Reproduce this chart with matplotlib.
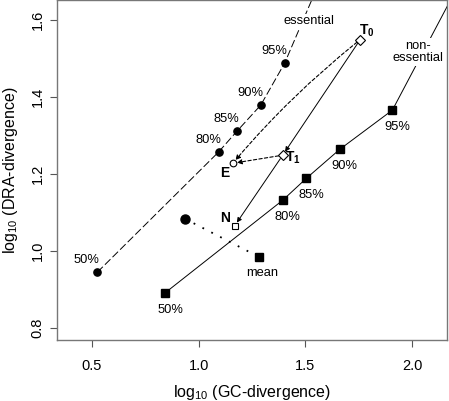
import matplotlib
matplotlib.use("Agg")
import matplotlib.pyplot as plt

plt.rcParams['font.family'] = ['Liberation Sans', 'DejaVu Sans']
plt.rcParams['mathtext.fontset'] = 'custom'
plt.rcParams['mathtext.rm'] = 'Liberation Sans'
plt.rcParams['mathtext.bf'] = 'Liberation Sans:bold'

pct_labels = ["50%", "80%", "85%", "90%", "95%"]
ess_x = [0.525, 1.093, 1.179, 1.291, 1.403]
ess_y = [0.945, 1.257, 1.311, 1.379, 1.488]
non_x = [0.844, 1.394, 1.505, 1.661, 1.908]
non_y = [0.892, 1.132, 1.189, 1.264, 1.366]
ess_ext = (1.530, 1.652)      # dashed extension to the top
non_ext = (2.175, 1.646)      # solid extension to the right
mean_x = [0.935, 1.282]
mean_y = [1.084, 0.985]
T0 = (1.757, 1.549)
T1 = (1.394, 1.249)
E = (1.160, 1.228)
N = (1.168, 1.065)

W, H = 449, 401
fig = plt.figure(figsize=(W/100, H/100), dpi=100)
ax = fig.add_axes([57/W, 1-340/H, (447-57)/W, 340/H])
ax.set_xlim(0.336, 2.164)
ax.set_ylim(0.769, 1.652)

# essential (dashed)
ax.plot(ess_x + [ess_ext[0]], ess_y + [ess_ext[1]], color='black', lw=0.7,
        dashes=(8, 3), zorder=2)
ax.plot(ess_x, ess_y, 'o', color='black', ms=5.2, zorder=3)
# non-essential (solid)
ax.plot(non_x + [non_ext[0]], non_y + [non_ext[1]], color='black', lw=0.7, zorder=2)
ax.plot(non_x, non_y, 's', color='black', ms=5.2, zorder=3)

# means
ax.plot(mean_x, mean_y, color='black', lw=1.3, dashes=(1, 4.5), zorder=2)
ax.plot(mean_x[0], mean_y[0], 'o', color='black', ms=6.5, zorder=3)
ax.plot(mean_x[1], mean_y[1], 's', color='black', ms=6.2, zorder=3)

fs = 9.3
ax.annotate("mean", (mean_x[1], mean_y[1]), xytext=(2.5, -11.5), textcoords='offset points',
            ha='center', va='center', fontsize=fs)
for lab, x, y in zip(pct_labels, ess_x, ess_y):
    ax.annotate(lab, (x, y), xytext=(-7.5, 8.6), textcoords='offset points',
                ha='center', va='center', fontsize=fs)
for lab, x, y in zip(pct_labels, non_x, non_y):
    ax.annotate(lab, (x, y), xytext=(3.6, -12.2), textcoords='offset points',
                ha='center', va='center', fontsize=fs)

# curve labels
ax.annotate("essential", (1.516, 1.597), ha='center', va='center', fontsize=fs,
            bbox=dict(facecolor='white', edgecolor='none', pad=1.0), zorder=4)
ax.annotate("non-\nessential", (2.028, 1.517), ha='center', va='center', fontsize=fs,
            linespacing=1.05,
            bbox=dict(facecolor='white', edgecolor='none', pad=1.0), zorder=4)

# arrows
arrow_solid = dict(arrowstyle='-|>', color='black', lw=0.7, mutation_scale=7,
                   shrinkA=3, shrinkB=3)
arrow_dash = dict(arrowstyle='-|>', color='black', lw=0.8, linestyle=(0, (3, 2)),
                  mutation_scale=7, shrinkA=3, shrinkB=3)
arrow_dash_curve = dict(arrow_dash, connectionstyle='arc3,rad=0.05')
ax.annotate("", xy=T1, xytext=T0, arrowprops=arrow_solid, zorder=2)
ax.annotate("", xy=N, xytext=T1, arrowprops=arrow_solid, zorder=2)
ax.annotate("", xy=E, xytext=T0, arrowprops=arrow_dash_curve, zorder=2)
ax.annotate("", xy=E, xytext=T1, arrowprops=arrow_dash, zorder=2)

# open markers
ax.plot(*T0, 'D', mfc='white', mec='black', mew=0.8, ms=4.6, zorder=5)
ax.plot(*T1, 'D', mfc='white', mec='black', mew=0.8, ms=4.6, zorder=5)
ax.plot(*E, 'o', mfc='white', mec='black', mew=0.8, ms=4.8, zorder=5)
ax.plot(*N, 's', mfc='white', mec='black', mew=0.8, ms=4.6, zorder=5)

ax.annotate(r"$\mathbf{T_0}$", T0, xytext=(4.5, 6.5), textcoords='offset points',
            ha='center', va='center', fontsize=10)
ax.annotate(r"$\mathbf{T_1}$", T1, xytext=(7.5, -2), textcoords='offset points',
            ha='center', va='center', fontsize=10)
ax.annotate("E", E, xytext=(-6, -7), textcoords='offset points',
            ha='center', va='center', fontsize=10, fontweight='bold')
ax.annotate("N", N, xytext=(-7, 6), textcoords='offset points',
            ha='center', va='center', fontsize=10, fontweight='bold')

ax.set_xticks([0.5, 1.0, 1.5, 2.0])
ax.set_xticklabels(["0.5", "1.0", "1.5", "2.0"])
ax.set_yticks([0.8, 1.0, 1.2, 1.4, 1.6])
ax.set_yticklabels(["0.8", "1.0", "1.2", "1.4", "1.6"], rotation=90, va='center')
ax.tick_params(direction='out', length=5, width=0.8, color='#555555', labelsize=10.5)
ax.tick_params(axis='x', pad=9)
ax.tick_params(axis='y', pad=4)
for s in ax.spines.values():
    s.set_color('#777777')
    s.set_linewidth(1.0)

ax.set_xlabel(r"log$_{10}$ (GC-divergence)", fontsize=11.5)
ax.set_ylabel(r"log$_{10}$ (DRA-divergence)", fontsize=11.5)
ax.xaxis.set_label_coords(0.5, (340 - 383) / 340)
ax.yaxis.set_label_coords((20 - 57) / 390, 0.5)

fig.savefig("out.png", dpi=100)
